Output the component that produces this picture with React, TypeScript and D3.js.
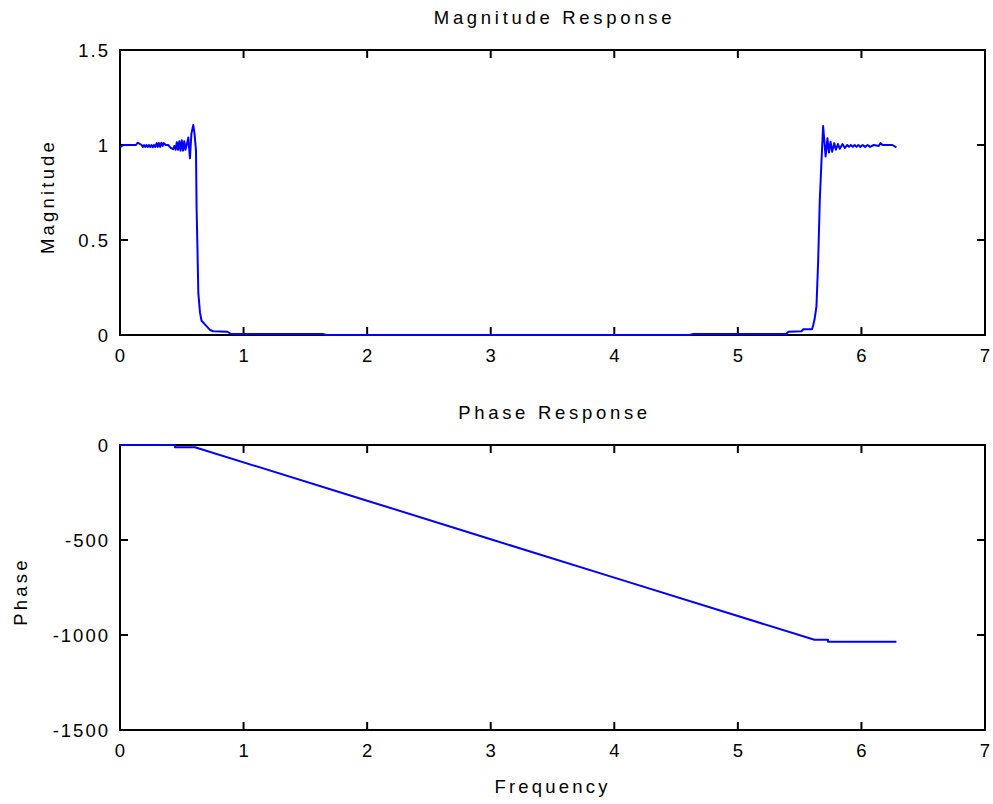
import React from "react";
import * as d3 from "d3";

const magFreq = [
  0, 0.027, 0.13, 0.143, 0.175, 0.185, 0.195, 0.205, 0.215, 0.225, 0.235, 0.245, 0.255, 0.265, 0.275, 0.285,
  0.297, 0.305, 0.315, 0.325, 0.335, 0.345, 0.355, 0.37, 0.39, 0.41, 0.43, 0.44, 0.45, 0.46, 0.47, 0.48, 0.49,
  0.5, 0.51, 0.52, 0.53, 0.54, 0.553, 0.566, 0.578, 0.593, 0.603, 0.615, 0.62, 0.627, 0.634, 0.647, 0.66, 0.7,
  0.73, 0.755, 0.87, 0.9, 1.64, 1.67,
  4.61, 4.64, 5.39, 5.41, 5.515, 5.53, 5.6, 5.61, 5.62, 5.636, 5.65, 5.663, 5.677, 5.69, 5.71, 5.725, 5.737,
  5.75, 5.763, 5.78, 5.793, 5.81, 5.825, 5.847, 5.866, 5.885, 5.9, 5.915, 5.93, 5.945, 5.96, 5.975, 5.99, 6.01,
  6.03, 6.05, 6.07, 6.1, 6.14, 6.155, 6.17, 6.25, 6.283,
];
const magValue = [
  0.988, 1.0, 1.0, 1.012, 1.0, 0.99, 1.0, 0.99, 1.0, 0.99, 1.0, 0.99, 1.0, 0.988, 1.0, 0.99,
  1.01, 0.99, 1.01, 0.99, 1.012, 0.995, 1.01, 1.0, 1.0, 0.985, 0.978, 0.995, 0.975, 1.015, 0.975, 1.02, 0.97,
  1.025, 0.97, 1.02, 0.975, 1.0, 1.04, 0.93, 1.06, 1.105, 1.06, 0.97, 0.66, 0.45, 0.22, 0.12, 0.075, 0.047,
  0.026, 0.02, 0.017, 0.005, 0.005, 0,
  0, 0.005, 0.005, 0.017, 0.02, 0.03, 0.03, 0.053, 0.08, 0.15, 0.39, 0.71, 0.92, 1.1, 0.94, 1.035, 0.96,
  1.017, 0.965, 1.01, 0.975, 1.005, 0.98, 1.005, 0.985, 1.0, 0.99, 1.0, 0.99, 1.0, 0.99, 1.0, 0.99, 1.0,
  0.99, 1.0, 0.99, 1.0, 0.995, 1.01, 1.0, 1.0, 0.988,
];

const phaseFreq = [0, 0.445, 0.445, 0.607, 2, 3, 4, 5.62, 5.73, 5.73, 6.283];
const phaseValue = [0, 0, -12, -12, -293, -496, -698, -1025, -1025, -1035, -1035];

const xTicks = [0, 1, 2, 3, 4, 5, 6, 7];
const magTicks = [0, 0.5, 1, 1.5];
const magTickLabels = ["0", "0.5", "1", "1.5"];
const phaseTicks = [-1500, -1000, -500, 0];
const phaseTickLabels = ["-1500", "-1000", "-500", "0"];

const FONT = "'Liberation Sans', Arial, Helvetica, sans-serif";
const LEFT = 120;
const RIGHT = 985;
const FS = 18.5;

type PanelProps = {
  top: number;
  bottom: number;
  yDomain: [number, number];
  yTicks: number[];
  yTickLabels: string[];
  xs: number[];
  ys: number[];
  title: string;
  ylabel: string;
  ylabelX: number;
  xlabel?: string;
};

function Panel({ top, bottom, yDomain, yTicks, yTickLabels, xs, ys, title, ylabel, ylabelX, xlabel }: PanelProps) {
  const x = d3.scaleLinear().domain([0, 7]).range([LEFT, RIGHT]);
  const y = d3.scaleLinear().domain(yDomain).range([bottom, top]);
  const pts: [number, number][] = xs.map((f, i) => [f, ys[i]]);
  const line = d3
    .line<[number, number]>()
    .x((d) => x(d[0]))
    .y((d) => y(d[1]));
  const tl = 8;
  const tickStyle = { stroke: "#000", strokeWidth: 2 };
  return (
    <g>
      <rect x={LEFT} y={top} width={RIGHT - LEFT} height={bottom - top} fill="none" stroke="#000" strokeWidth={2} />
      {xTicks.map((t) => (
        <g key={"x" + t}>
          <line x1={x(t)} x2={x(t)} y1={bottom} y2={bottom - tl} {...tickStyle} />
          <line x1={x(t)} x2={x(t)} y1={top} y2={top + tl} {...tickStyle} />
          <text
            x={x(t) + 1}
            y={bottom + 27}
            textAnchor="middle"
            fontFamily={FONT}
            fontSize={FS}
            letterSpacing={2}
          >
            {String(t)}
          </text>
        </g>
      ))}
      {yTicks.map((t, i) => (
        <g key={"y" + t}>
          <line x1={LEFT} x2={LEFT + tl} y1={y(t)} y2={y(t)} {...tickStyle} />
          <line x1={RIGHT} x2={RIGHT - tl} y1={y(t)} y2={y(t)} {...tickStyle} />
          <text
            x={LEFT - 10}
            y={y(t) + 6.5}
            textAnchor="end"
            fontFamily={FONT}
            fontSize={FS}
            letterSpacing={2}
          >
            {yTickLabels[i]}
          </text>
        </g>
      ))}
      <path
        d={line(pts) || ""}
        fill="none"
        stroke="#0000ff"
        strokeWidth={2}
        strokeLinejoin="round"
      />
      <text
        x={(LEFT + RIGHT) / 2 + 2}
        y={top - 26}
        textAnchor="middle"
        fontFamily={FONT}
        fontSize={FS}
        letterSpacing={3.7}
      >
        {title}
      </text>
      <text
        transform={`translate(${ylabelX},${(top + bottom) / 2 + 4}) rotate(-90)`}
        textAnchor="middle"
        fontFamily={FONT}
        fontSize={FS}
        letterSpacing={3.2}
      >
        {ylabel}
      </text>
      {xlabel ? (
        <text
          x={(LEFT + RIGHT) / 2}
          y={bottom + 63}
          textAnchor="middle"
          fontFamily={FONT}
          fontSize={FS}
          letterSpacing={3.2}
        >
          {xlabel}
        </text>
      ) : null}
    </g>
  );
}

export default function App() {
  return (
    <svg
      width={993}
      height={804}
      style={{ position: "absolute", left: 0, top: 0, background: "#fff" }}
    >
      <rect x={0} y={0} width={993} height={804} fill="#fff" />
      <Panel
        top={50}
        bottom={335}
        yDomain={[0, 1.5]}
        yTicks={magTicks}
        yTickLabels={magTickLabels}
        xs={magFreq}
        ys={magValue}
        title="Magnitude Response"
        ylabel="Magnitude"
        ylabelX={54}
      />
      <Panel
        top={445}
        bottom={730}
        yDomain={[-1500, 0]}
        yTicks={phaseTicks}
        yTickLabels={phaseTickLabels}
        xs={phaseFreq}
        ys={phaseValue}
        title="Phase Response"
        ylabel="Phase"
        ylabelX={27}
        xlabel="Frequency"
      />
    </svg>
  );
}
